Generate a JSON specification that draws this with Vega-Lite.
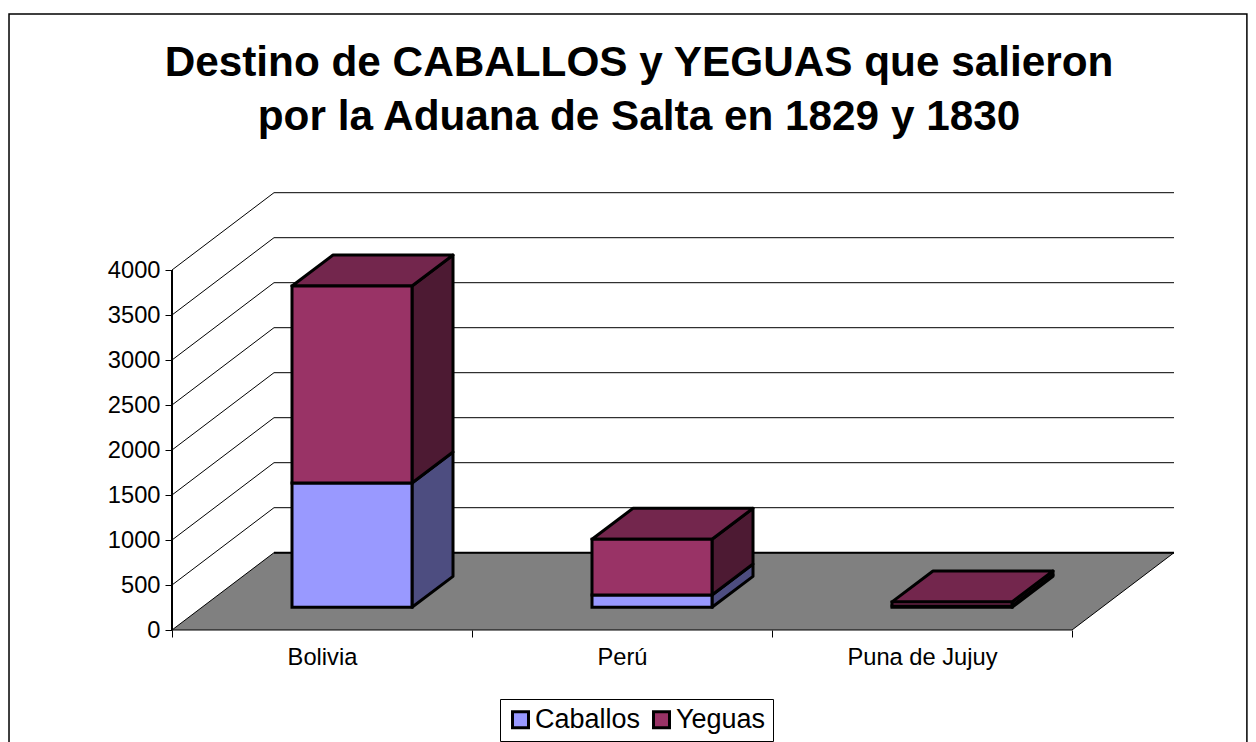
{
  "$schema": "https://vega.github.io/schema/vega-lite/v6.json",
  "width": 1002,
  "height": 438,
  "autosize": {"type": "none"},
  "padding": {"left": 172, "top": 192, "right": 82, "bottom": 112},
  "background": "white",
  "config": {"view": {"stroke": null}, "font": "Liberation Sans"},
  "title": {
    "text": ["Destino de CABALLOS y YEGUAS que salieron", "por la Aduana de Salta en 1829 y 1830"],
    "font": "Liberation Sans", "fontSize": 42.3, "fontWeight": "bold", "color": "black",
    "lineHeight": 54, "anchor": "middle", "frame": "group", "dx": -34, "offset": -126
  },
  "datasets": {
    "barras": [
      {"destino": "Bolivia", "tipo": "Caballos", "valor": 1381},
      {"destino": "Bolivia", "tipo": "Yeguas", "valor": 2189},
      {"destino": "Perú", "tipo": "Caballos", "valor": 137},
      {"destino": "Perú", "tipo": "Yeguas", "valor": 619},
      {"destino": "Puna de Jujuy", "tipo": "Caballos", "valor": 15},
      {"destino": "Puna de Jujuy", "tipo": "Yeguas", "valor": 45}
    ],
    "niveles": [
      {"nivel": 0}, {"nivel": 500}, {"nivel": 1000}, {"nivel": 1500}, {"nivel": 2000},
      {"nivel": 2500}, {"nivel": 3000}, {"nivel": 3500}, {"nivel": 4000}
    ]
  },
  "resolve": {"scale": {"fill": "independent"}},
  "layer": [
    {
      "data": {"name": "niveles"},
      "transform": [
        {"filter": "datum.nivel == 0"},
        {"calculate": "[0, 1]", "as": "d"},
        {"flatten": ["d"]},
        {"calculate": "datum.d * 0.34", "as": "xi"},
        {"calculate": "3 + datum.d * 0.34", "as": "xf"},
        {"calculate": "datum.d * 859", "as": "yy"}
      ],
      "mark": {"type": "area", "orient": "horizontal", "fill": "#808080", "stroke": "black", "strokeWidth": 1},
      "encoding": {
        "x": {
          "field": "xi", "type": "quantitative",
          "scale": {"domain": [0, 3.34], "nice": false, "zero": false},
          "axis": {
            "title": null, "domain": false, "grid": false,
            "values": [0, 0.5, 1, 1.5, 2, 2.5, 3],
            "tickSize": 7, "tickColor": "black", "tickOpacity": {"expr": "datum.value % 1 == 0 ? 1 : 0"},
            "labelExpr": "datum.value == 0.5 ? 'Bolivia' : datum.value == 1.5 ? 'Perú' : datum.value == 2.5 ? 'Puna de Jujuy' : ''",
            "labelFont": "Liberation Sans", "labelFontSize": 23.7, "labelColor": "black", "labelPadding": 8, "labelOverlap": false, "labelFlush": false
          }
        },
        "x2": {"field": "xf"},
        "y": {
          "field": "yy", "type": "quantitative",
          "scale": {"domain": [0, 4866.67], "nice": false, "zero": false},
          "axis": {
            "title": null, "domain": false, "grid": false,
            "values": [0, 500, 1000, 1500, 2000, 2500, 3000, 3500, 4000],
            "tickSize": 7, "tickColor": "black", "format": "d",
            "labelFont": "Liberation Sans", "labelFontSize": 23.7, "labelColor": "black", "labelPadding": 5
          }
        }
      }
    },
    {
      "data": {"name": "niveles"},
      "mark": {"type": "rule", "stroke": "black", "strokeWidth": 1},
      "encoding": {
        "x": {"datum": 0, "type": "quantitative"},
        "y": {"datum": 0, "type": "quantitative"},
        "y2": {"datum": 4000}
      }
    },
    {
      "data": {"name": "niveles"},
      "transform": [
        {"filter": "datum.nivel > 0"},
        {"calculate": "0", "as": "x0"},
        {"calculate": "0.34", "as": "x1"},
        {"calculate": "datum.nivel + 859", "as": "fondo"}
      ],
      "mark": {"type": "rule", "stroke": "black", "strokeWidth": 1},
      "encoding": {
        "x": {"field": "x0", "type": "quantitative"},
        "x2": {"field": "x1"},
        "y": {"field": "nivel", "type": "quantitative"},
        "y2": {"field": "fondo"}
      }
    },
    {
      "data": {"name": "niveles"},
      "transform": [
        {"calculate": "0.34", "as": "x0"},
        {"calculate": "3.34", "as": "x1"},
        {"calculate": "datum.nivel + 859", "as": "fondo"}
      ],
      "mark": {"type": "rule", "stroke": "black"},
      "encoding": {
        "x": {"field": "x0", "type": "quantitative"},
        "x2": {"field": "x1"},
        "y": {"field": "fondo", "type": "quantitative"},
        "strokeWidth": {"condition": {"test": "datum.nivel == 0", "value": 2}, "value": 1}
      }
    },
    {
      "data": {"name": "barras"},
      "transform": [
        {"stack": "valor", "groupby": ["destino"], "sort": [{"field": "tipo", "order": "ascending"}], "as": ["v0", "v1"]},
        {"calculate": "indexof(['Bolivia', 'Perú', 'Puna de Jujuy'], datum.destino)", "as": "i"},
        {"calculate": "[0, 1]", "as": "d"},
        {"flatten": ["d"]},
        {"calculate": "datum.i + 0.8 + datum.d * 0.1367", "as": "xs"},
        {"calculate": "252 + datum.v0 + datum.d * 344", "as": "ya"},
        {"calculate": "252 + datum.v1 + datum.d * 344", "as": "yb"}
      ],
      "mark": {"type": "area", "stroke": "black", "strokeWidth": 3, "strokeJoin": "round"},
      "encoding": {
        "x": {"field": "xs", "type": "quantitative"},
        "y": {"field": "ya", "type": "quantitative"},
        "y2": {"field": "yb"},
        "detail": {"field": "destino"},
        "fill": {"field": "tipo", "type": "nominal", "legend": null,
          "scale": {"domain": ["Caballos", "Yeguas"], "range": ["#4D4D80", "#4D1A33"]}}
      }
    },
    {
      "data": {"name": "barras"},
      "transform": [
        {"stack": "valor", "groupby": ["destino"], "sort": [{"field": "tipo", "order": "ascending"}], "as": ["v0", "v1"]},
        {"filter": "datum.tipo == 'Yeguas'"},
        {"calculate": "indexof(['Bolivia', 'Perú', 'Puna de Jujuy'], datum.destino)", "as": "i"},
        {"calculate": "[0, 1]", "as": "d"},
        {"flatten": ["d"]},
        {"calculate": "datum.i + 0.4 + datum.d * 0.1367", "as": "xa"},
        {"calculate": "datum.i + 0.8 + datum.d * 0.1367", "as": "xb"},
        {"calculate": "252 + datum.v1 + datum.d * 344", "as": "yt"}
      ],
      "mark": {"type": "area", "orient": "horizontal", "stroke": "black", "strokeWidth": 3, "strokeJoin": "round"},
      "encoding": {
        "x": {"field": "xa", "type": "quantitative"},
        "x2": {"field": "xb"},
        "y": {"field": "yt", "type": "quantitative"},
        "detail": {"field": "destino"},
        "fill": {"field": "tipo", "type": "nominal", "legend": null,
          "scale": {"domain": ["Yeguas"], "range": ["#73264D"]}}
      }
    },
    {
      "data": {"name": "barras"},
      "transform": [
        {"stack": "valor", "groupby": ["destino"], "sort": [{"field": "tipo", "order": "ascending"}], "as": ["v0", "v1"]},
        {"calculate": "indexof(['Bolivia', 'Perú', 'Puna de Jujuy'], datum.destino)", "as": "i"},
        {"calculate": "datum.i + 0.4", "as": "xa"},
        {"calculate": "datum.i + 0.8", "as": "xb"},
        {"calculate": "252 + datum.v0", "as": "ya"},
        {"calculate": "252 + datum.v1", "as": "yb"}
      ],
      "mark": {"type": "rect", "stroke": "black", "strokeWidth": 3},
      "encoding": {
        "x": {"field": "xa", "type": "quantitative"},
        "x2": {"field": "xb"},
        "y": {"field": "ya", "type": "quantitative"},
        "y2": {"field": "yb"},
        "fill": {
          "field": "tipo", "type": "nominal",
          "scale": {"domain": ["Caballos", "Yeguas"], "range": ["#9999FF", "#993366"]},
          "legend": {
            "title": null, "orient": "none", "legendX": 328, "legendY": 507, "direction": "horizontal", "columns": 2,
            "fillColor": "white", "strokeColor": "black", "padding": 7,
            "symbolType": "square", "symbolSize": 256, "symbolStrokeColor": "black", "symbolStrokeWidth": 3,
            "labelFont": "Liberation Sans", "labelFontSize": 27, "labelColor": "black", "labelLimit": 300, "columnPadding": 6, "labelOffset": 1
          }
        }
      }
    },
    {
      "data": {"name": "niveles"},
      "transform": [
        {"filter": "datum.nivel == 0"}
      ],
      "mark": {"type": "rect", "fill": null, "stroke": "black", "strokeWidth": 1.5},
      "encoding": {
        "x": {"datum": -0.5433, "type": "quantitative"},
        "x2": {"datum": 3.583},
        "y": {"datum": 6844, "type": "quantitative"},
        "y2": {"datum": -1333}
      }
    }
  ]
}
